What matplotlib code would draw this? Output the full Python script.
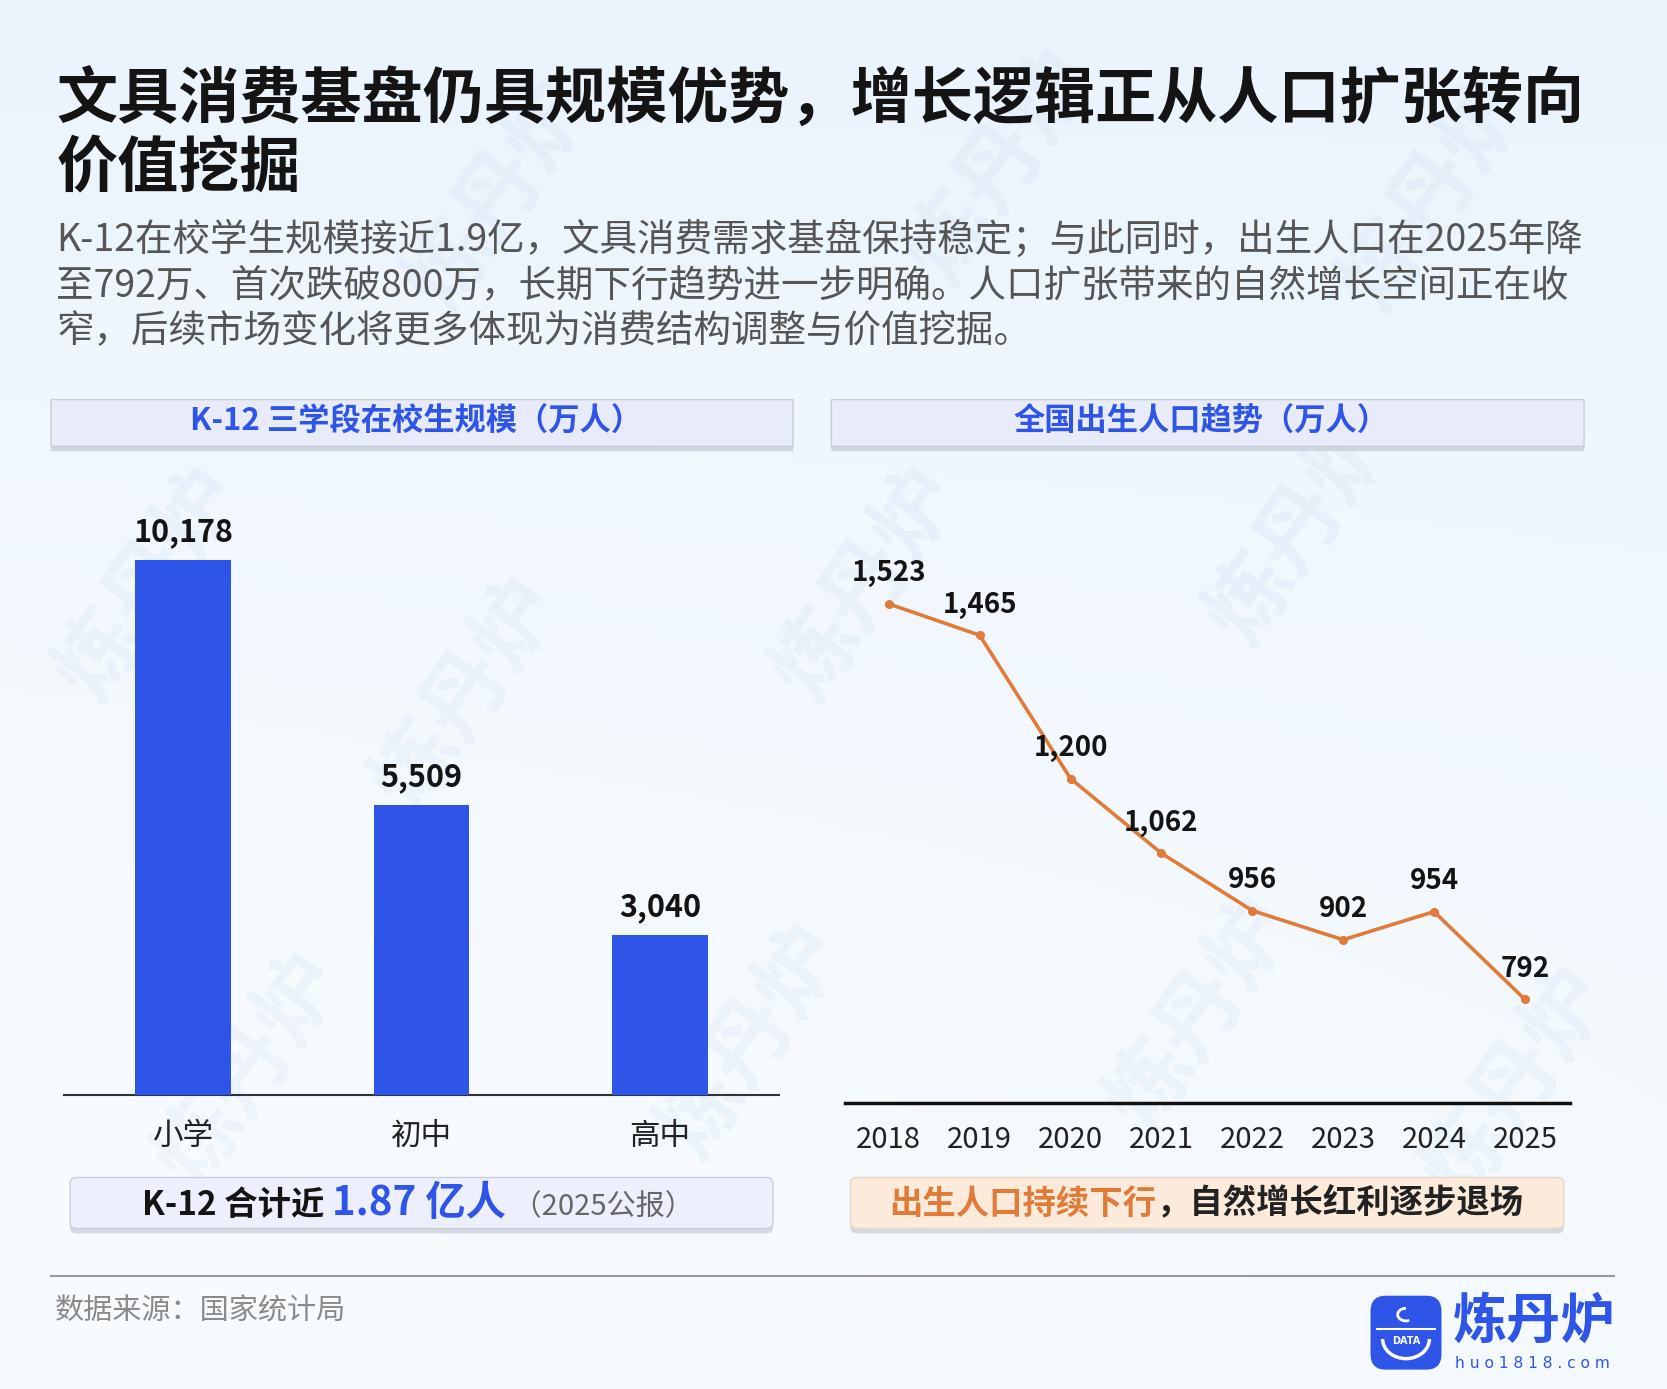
import numpy as np
import matplotlib
matplotlib.use("Agg")
import matplotlib.pyplot as plt
from matplotlib.patches import FancyBboxPatch, Arc

plt.rcParams['font.family'] = ['Noto Sans CJK SC', 'DejaVu Sans']

# %% data
stages   = ["小学", "初中", "高中"]
students = [10178, 5509, 3040]          # 万人

years  = ["2018", "2019", "2020", "2021", "2022", "2023", "2024", "2025"]
births = [1523, 1465, 1200, 1062, 956, 902, 954, 792]   # 万人

title_lines = ["文具消费基盘仍具规模优势，增长逻辑正从人口扩张转向",
               "价值挖掘"]
subtitle_lines = [
    "K-12在校学生规模接近1.9亿，文具消费需求基盘保持稳定；与此同时，出生人口在2025年降",
    "至792万、首次跌破800万，长期下行趋势进一步明确。人口扩张带来的自然增长空间正在收",
    "窄，后续市场变化将更多体现为消费结构调整与价值挖掘。",
]
left_header  = "K-12 三学段在校生规模（万人）"
right_header = "全国出生人口趋势（万人）"
source_text  = "数据来源：国家统计局"

BLUE   = "#2F55E8"
ORANGE = "#E07B39"
DARK   = "#141414"
GRAY   = "#555555"

# layout grid in reference pixels
W, H = 1568, 1307
fig = plt.figure(figsize=(16.67, 13.89), dpi=100)


def fx(x):
    return x / W


def fy(y):
    return 1 - y / H


# %% background gradient + faint watermarks
bg = fig.add_axes([0, 0, 1, 1], zorder=-10)
gy, gx = np.mgrid[0:1:300j, 0:1:300j]
a = np.clip(0.75 * (1 - gy) ** 1.5 + 0.25 * gx * gy, 0, 1)[..., None]
white = np.array([0.975, 0.988, 0.998])
tint = np.array([0.900, 0.945, 0.985])
bg.imshow(white * (1 - a) + tint * a, aspect="auto", extent=[0, 1, 0, 1])
bg.set_axis_off()

for wx, wy in [(0.09, 0.58), (0.28, 0.50), (0.52, 0.58), (0.78, 0.62),
               (0.15, 0.23), (0.45, 0.25), (0.72, 0.27), (0.91, 0.22),
               (0.30, 0.86), (0.60, 0.88), (0.86, 0.86)]:
    fig.text(wx, wy, "炼丹炉", rotation=55, fontsize=62, fontweight="bold",
             color="#C6D8EE", alpha=0.2, ha="center", va="center", zorder=-5)

# %% title and subtitle
fig.text(fx(53), fy(95), title_lines[0], fontsize=44, fontweight="bold",
         color=DARK, va="center", ha="left")
fig.text(fx(53), fy(160), title_lines[1], fontsize=44, fontweight="bold",
         color=DARK, va="center", ha="left")
for i, line in enumerate(subtitle_lines):
    fig.text(fx(53), fy(226 + 43 * i), line, fontsize=27, color=GRAY,
             va="center", ha="left")


def card(x0, x1, y0, y1, fc, ec="#C9CDDB", radius=0.0):
    shadow = FancyBboxPatch((fx(x0), fy(y1) - 0.0035), fx(x1) - fx(x0),
                            fy(y0) - fy(y1),
                            boxstyle=f"round,pad=0,rounding_size={radius}",
                            transform=fig.transFigure, fc="#B8BDCC",
                            ec="none", alpha=0.55, zorder=1)
    box = FancyBboxPatch((fx(x0), fy(y1)), fx(x1) - fx(x0), fy(y0) - fy(y1),
                         boxstyle=f"round,pad=0,rounding_size={radius}",
                         transform=fig.transFigure, fc=fc, ec=ec, lw=1.0,
                         zorder=2)
    fig.add_artist(shadow)
    fig.add_artist(box)


# panel headers
card(48, 746, 376, 420, "#E8EBFA")
card(782, 1490, 376, 420, "#E8EBFA")
fig.text(fx(391), fy(397), left_header, fontsize=22.5, fontweight="bold",
         color=BLUE, ha="center", va="center", zorder=3)
fig.text(fx(1130), fy(397), right_header, fontsize=22.5, fontweight="bold",
         color=BLUE, ha="center", va="center", zorder=3)

# %% bar chart
ax1 = fig.add_axes([fx(60), fy(1030), fx(733) - fx(60), fy(470) - fy(1030)])
ax1.patch.set_alpha(0)
xb = np.arange(len(stages))
ax1.bar(xb, students, width=0.4, color=BLUE, zorder=3)
for xi, v in zip(xb, students):
    ax1.annotate(f"{v:,}", (xi, v), xytext=(0, 20), textcoords="offset points",
                 ha="center", va="center", fontsize=22, fontweight="bold",
                 color=DARK)
ax1.set_xlim(-0.5, 2.5)
ax1.set_ylim(0, 11330)
ax1.set_xticks(xb, stages)
ax1.tick_params(axis="x", length=0, pad=19, labelsize=22, labelcolor="#222222")
ax1.set_yticks([])
for s in ["top", "right", "left"]:
    ax1.spines[s].set_visible(False)
ax1.spines["bottom"].set_color("#333333")
ax1.spines["bottom"].set_linewidth(1.5)

# %% line chart
ax2 = fig.add_axes([fx(795), fy(1038), fx(1477) - fx(795), fy(470) - fy(1038)])
ax2.patch.set_alpha(0)
xl = np.arange(len(years))
ax2.plot(xl, births, color=ORANGE, lw=2.6, marker="o", markersize=5.5,
         zorder=3)
for xi, v in zip(xl, births):
    ax2.annotate(f"{v:,}", (xi, v), xytext=(0, 22), textcoords="offset points",
                 ha="center", va="center", fontsize=20, fontweight="bold",
                 color=DARK, zorder=4)
ax2.set_xlim(-0.48, 7.5)
ax2.set_ylim(600, 1716)
ax2.set_xticks(xl, years)
ax2.tick_params(axis="x", length=0, pad=16, labelsize=21, labelcolor="#222222")
ax2.set_yticks([])
for s in ["top", "right", "left"]:
    ax2.spines[s].set_visible(False)
ax2.spines["bottom"].set_color("#111111")
ax2.spines["bottom"].set_linewidth(2.5)

# %% bottom note cards (multi-colour lines)
card(66, 727, 1108, 1156, "#EDF0FC", radius=0.004)
card(800, 1471, 1108, 1156, "#FCEADB", ec="#E6D6C8", radius=0.004)

renderer = fig.canvas.get_renderer()


def rich_line(parts, xc, y_base):
    texts = [fig.text(0, fy(y_base), s, ha="left", va="baseline", zorder=3, **kw)
             for s, kw in parts]
    widths = [t.get_window_extent(renderer).width for t in texts]
    x = fx(xc) * fig.bbox.width - sum(widths) / 2
    for t, w in zip(texts, widths):
        t.set_x(x / fig.bbox.width)
        x += w


rich_line([("K-12 合计近 ", dict(fontsize=24, fontweight="bold", color=DARK)),
           ("1.87 亿人", dict(fontsize=29, fontweight="bold", color=BLUE)),
           (" （2025公报）", dict(fontsize=21, color="#666666"))],
          393, 1143)
rich_line([("出生人口持续下行", dict(fontsize=24, fontweight="bold", color=ORANGE)),
           ("，自然增长红利逐步退场", dict(fontsize=24, fontweight="bold", color="#222222"))],
          1135, 1142)

# %% footer
fig.add_artist(plt.Line2D([fx(48), fx(1518)], [fy(1201), fy(1201)],
                          transform=fig.transFigure, color="#9A9A9A", lw=1.5))
fig.text(fx(52), fy(1234), source_text, fontsize=21, color="#8A8A8A",
         ha="left", va="center")

# logo icon
lg = fig.add_axes([fx(1287), fy(1291), fx(1358) - fx(1287), fy(1217) - fy(1291)])
lg.set_xlim(0, 1)
lg.set_ylim(0, 1)
lg.set_axis_off()
lg.add_patch(FancyBboxPatch((0.03, 0.03), 0.94, 0.94,
                            boxstyle="round,pad=0,rounding_size=0.2",
                            fc=BLUE, ec="none"))
lg.add_patch(Arc((0.5, 0.42), 0.62, 0.5, theta1=180, theta2=360,
                 color="white", lw=2.5))
lg.plot([0.12, 0.88], [0.55, 0.55], color="white", lw=1.5)
lg.text(0.5, 0.40, "DATA", color="white", fontsize=7, fontweight="bold",
        ha="center", va="center", family="DejaVu Sans")
lg.add_patch(Arc((0.5, 0.73), 0.22, 0.16, theta1=90, theta2=300,
                 color="white", lw=2))

fig.text(fx(1367), fy(1244), "炼丹炉", fontsize=39, fontweight="bold",
         color=BLUE, ha="left", va="center")
fig.text(fx(1369), fy(1283), "h u o 1 8 1 8 . c o m", fontsize=11.2,
         color=BLUE, ha="left", va="center", family="DejaVu Sans")

fig.savefig("out.png", dpi=100)
